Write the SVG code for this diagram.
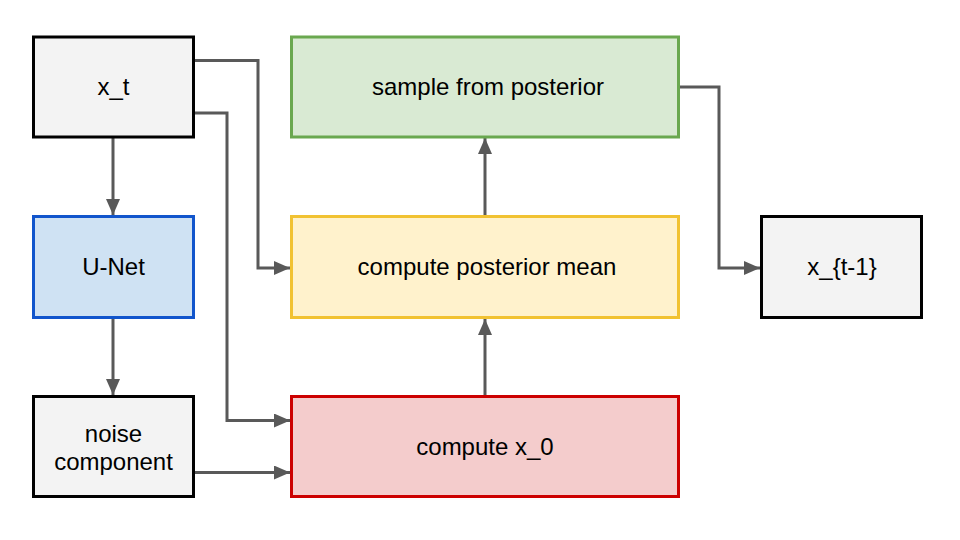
<svg xmlns="http://www.w3.org/2000/svg" width="960" height="540" viewBox="0 0 960 540">
<style>
.box{stroke-width:3}
.gray{fill:#f3f3f3;stroke:#000000}
.blue{fill:#cfe2f3;stroke:#1155cc}
.green{fill:#d9ead3;stroke:#6aa84f}
.yellow{fill:#fff2cc;stroke:#f1c232}
.red{fill:#f4cccc;stroke:#cc0000}
text{font-family:"Liberation Sans",Arial,sans-serif;font-size:24px;fill:#000;text-anchor:middle}
.conn{fill:none;stroke:#595959;stroke-width:3}
</style>
<defs>
<marker id="arr" markerUnits="userSpaceOnUse" markerWidth="18" markerHeight="16" refX="16" refY="7" orient="auto">
<path d="M0,0 L16,7 L0,14 Z" fill="#595959"/>
</marker>
</defs>
<rect width="960" height="540" fill="#ffffff"/>
<g id="connectors">
<path class="conn" d="M194,60.5 H258 V268 H290" marker-end="url(#arr)"/>
<path class="conn" d="M194,113 H227 V420.5 H290" marker-end="url(#arr)"/>
<path class="conn" d="M113,137 V215" marker-end="url(#arr)"/>
<path class="conn" d="M113,318 V395" marker-end="url(#arr)"/>
<path class="conn" d="M194,472.5 H290" marker-end="url(#arr)"/>
<path class="conn" d="M485,396 V319" marker-end="url(#arr)"/>
<path class="conn" d="M485,216 V138" marker-end="url(#arr)"/>
<path class="conn" d="M679,87 H719 V268 H760" marker-end="url(#arr)"/>
</g>
<g id="x_t"><rect class="box gray" x="33.5" y="37" width="160" height="100"/><text x="113.5" y="95">x_t</text></g>
<g id="unet"><rect class="box blue" x="33.5" y="216.5" width="160" height="101"/><text x="113.5" y="275">U-Net</text></g>
<g id="noise"><rect class="box gray" x="33.5" y="396.5" width="160" height="100"/><text x="113.5" y="442">noise</text><text x="113.5" y="470">component</text></g>
<g id="sample"><rect class="box green" x="291.5" y="37" width="387" height="100"/><text x="488" y="95">sample from posterior</text></g>
<g id="mean"><rect class="box yellow" x="291.5" y="216.5" width="387" height="101"/><text x="487" y="275">compute posterior mean</text></g>
<g id="x0"><rect class="box red" x="291.5" y="396.5" width="387" height="100"/><text x="485" y="455">compute x_0</text></g>
<g id="x_t1"><rect class="box gray" x="761.5" y="216.5" width="160" height="101"/><text x="842" y="275">x_{t-1}</text></g>
</svg>
